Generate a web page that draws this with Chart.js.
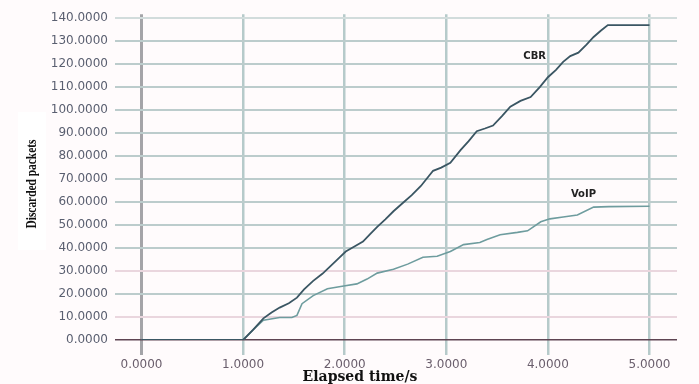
<!DOCTYPE html>
<html>
<head>
<meta charset="utf-8">
<script src="https://cdn.jsdelivr.net/npm/chart.js@4/dist/chart.umd.min.js"></script>
<style>
  html, body { margin: 0; padding: 0; background: #fffbfc; }
  #wrap { width: 699px; height: 384px; }
</style>
</head>
<body>
<div id="wrap"><canvas id="c" width="699" height="384"></canvas></div>
<script>
// Discarded packets over elapsed time for two traffic types
const cbrTime = [0, 1.00, 1.10, 1.20, 1.28, 1.36, 1.45, 1.53, 1.60, 1.69, 1.78, 1.86, 1.94, 2.01, 2.10, 2.18, 2.25, 2.32, 2.40, 2.48, 2.58, 2.66, 2.75, 2.87, 2.95, 3.04, 3.14, 3.22, 3.30, 3.38, 3.46, 3.55, 3.63, 3.73, 3.83, 3.92, 4.00, 4.08, 4.15, 4.22, 4.30, 4.38, 4.45, 4.52, 4.59, 5.00];
const cbrDiscarded = [0, 0, 4.5, 9.4, 12.0, 14.1, 16.0, 18.4, 22.0, 25.7, 28.8, 32.1, 35.5, 38.5, 40.8, 42.8, 46.0, 49.2, 52.5, 56.0, 59.9, 63.0, 67.0, 73.6, 75.0, 77.1, 82.6, 86.5, 90.8, 92.0, 93.3, 97.5, 101.5, 104.0, 105.7, 110.0, 114.3, 117.5, 121.0, 123.5, 125.0, 128.5, 131.8, 134.5, 137.0, 137.0];

const voipTime = [0, 1.00, 1.10, 1.20, 1.36, 1.48, 1.53, 1.58, 1.69, 1.83, 1.99, 2.12, 2.22, 2.32, 2.48, 2.62, 2.77, 2.91, 3.04, 3.17, 3.33, 3.40, 3.53, 3.70, 3.80, 3.93, 4.02, 4.15, 4.29, 4.45, 4.60, 5.00];
const voipDiscarded = [0, 0, 4.5, 8.6, 9.8, 9.8, 10.7, 15.8, 19.3, 22.3, 23.5, 24.4, 26.5, 29.1, 30.8, 33.0, 36.0, 36.4, 38.5, 41.5, 42.4, 43.7, 45.8, 46.8, 47.5, 51.4, 52.7, 53.5, 54.4, 57.8, 58.0, 58.2];

const xTicks = [0, 1, 2, 3, 4, 5];
const yTicks = [0, 10, 20, 30, 40, 50, 60, 70, 80, 90, 100, 110, 120, 130, 140];

// Series name labels, placed in data coordinates
const seriesLabels = [
  { text: 'CBR',  x: 3.87, y: 123.3 },
  { text: 'VoIP', x: 4.35, y: 63.4 }
];

const xTitle = 'Elapsed time/s';
const yTitle = 'Discarded packets';

const toPoints = (xs, ys) => xs.map((x, i) => ({ x: x, y: ys[i] }));

const decor = {
  id: 'decor',
  beforeDraw(chart) {
    const ctx = chart.ctx;
    ctx.save();
    ctx.fillStyle = '#fffbfc';
    ctx.fillRect(0, 0, chart.width, chart.height);
    // white panel behind the vertical axis title
    ctx.fillStyle = '#ffffff';
    ctx.fillRect(18, 112, 28, 138);
    ctx.restore();
  },
  afterDraw(chart) {
    const ctx = chart.ctx;
    const xs = chart.scales.x, ys = chart.scales.y;
    ctx.save();
    // series name labels
    ctx.fillStyle = '#222222';
    ctx.font = 'bold 10px "DejaVu Sans"';
    ctx.textAlign = 'center';
    ctx.textBaseline = 'middle';
    seriesLabels.forEach(l => {
      ctx.fillText(l.text, xs.getPixelForValue(l.x), ys.getPixelForValue(l.y));
    });
    // x axis title
    ctx.fillStyle = '#111111';
    ctx.font = 'bold 14px "DejaVu Serif"';
    ctx.fillText(xTitle, 360, 377);
    // y axis title, rotated and condensed
    ctx.translate(32, 184);
    ctx.rotate(-Math.PI / 2);
    ctx.scale(0.76, 1);
    ctx.font = 'bold 15px "Liberation Serif"';
    ctx.fillText(yTitle, 0, 0);
    ctx.restore();
  }
};

new Chart(document.getElementById('c'), {
  type: 'line',
  data: {
    datasets: [
      {
        label: 'CBR',
        data: toPoints(cbrTime, cbrDiscarded),
        borderColor: '#3b5663',
        borderWidth: 1.8,
        pointRadius: 0,
        tension: 0,
        order: 1
      },
      {
        label: 'VoIP',
        data: toPoints(voipTime, voipDiscarded),
        borderColor: '#6e9c9e',
        borderWidth: 1.6,
        pointRadius: 0,
        tension: 0,
        order: 2
      }
    ]
  },
  options: {
    responsive: false,
    animation: false,
    devicePixelRatio: 1,
    layout: { padding: { left: 0, right: 22, top: 9, bottom: 0 } },
    plugins: {
      legend: { display: false },
      tooltip: { enabled: false }
    },
    scales: {
      x: {
        type: 'linear',
        min: -0.2608,
        max: 5.2707,
        afterBuildTicks: s => { s.ticks = xTicks.map(v => ({ value: v })); },
        afterFit: s => { s.height = 44; },
        border: { display: false },
        grid: {
          drawTicks: true,
          tickLength: 15,
          color: c => (c.tick && c.tick.value === 0) ? '#a4a4a8' : '#b6caca',
          lineWidth: c => (c.tick && c.tick.value === 0) ? 3 : 2.5
        },
        ticks: {
          padding: 3,
          maxRotation: 0,
          color: '#6a5e6c',
          font: { family: 'DejaVu Sans', size: 12 },
          callback: v => Number(v).toFixed(4)
        }
      },
      y: {
        type: 'linear',
        min: 0,
        max: 141.71,
        afterBuildTicks: s => { s.ticks = yTicks.map(v => ({ value: v })); },
        afterFit: s => { s.width = 115; },
        border: { display: false },
        grid: {
          drawTicks: false,
          color: c => {
            const v = c.tick && c.tick.value;
            if (v === 0) return '#5e4452';
            if (v === 10 || v === 30) return '#ead6de';
            if (v === 140) return '#d2dcdc';
            return '#bccccc';
          },
          lineWidth: c => (c.tick && c.tick.value === 0) ? 1.6 : 2
        },
        ticks: {
          padding: 7,
          color: '#5a5f70',
          font: { family: 'DejaVu Sans', size: 12 },
          callback: v => Number(v).toFixed(4)
        }
      }
    }
  },
  plugins: [decor]
});
</script>
</body>
</html>
